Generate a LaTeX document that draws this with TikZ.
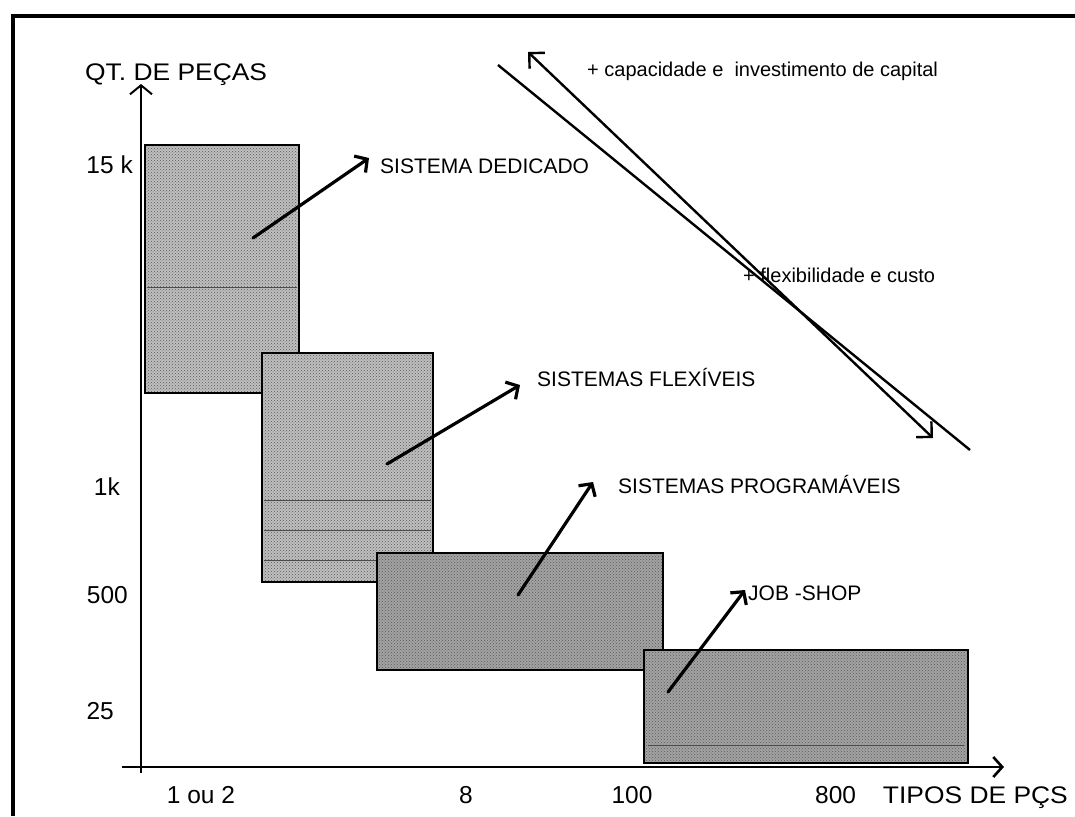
\documentclass[tikz,border=0pt]{standalone}
\usepackage{fontspec}
\setmainfont{Liberation Sans}
\newfontfamily\axisfont[FakeStretch=1.1]{Liberation Sans}
\usetikzlibrary{arrows.meta,patterns}
\begin{document}
\begin{tikzpicture}[x=1pt,y=-1pt,
  frameline/.style={line width=3.5pt},
  axisline/.style={line width=2pt},
  boxfill/.style={fill=black!#1},
  boxdots/.style={pattern=crosshatch dots, pattern color=black!65},
  boxline/.style={draw=black, line width=2.8pt},
  scanline/.style={draw=black!70, line width=0.8pt},
  tagarrow/.style={line width=3.2pt, line cap=round, -{Straight Barb[length=9pt,width=20pt]}},
  diagline/.style={line width=2.4pt},
  axlbl/.style={inner sep=0pt, font=\axisfont\fontsize{24}{28}\selectfont},
  numlbl/.style={inner sep=0pt, font=\fontsize{24.5}{28}\selectfont},
  syslbl/.style={inner sep=0pt, anchor=base west, font=\fontsize{21}{25}\selectfont},
  notelbl/.style={inner sep=0pt, anchor=base west, font=\fontsize{20}{24}\selectfont}
]
\useasboundingbox (0,0) rectangle (1075,816);
\fill[white] (0,0) rectangle (1075,816);

% frame
\coordinate (fbl) at (13,816);
\coordinate (ftl) at (13,16);
\coordinate (ftr) at (1075,16);
\draw[frameline] (fbl) -- (ftl) -- (ftr);

% axes
\coordinate (yo) at (141,773);
\coordinate (ytip) at (141,84);
\coordinate (xo) at (122,767);
\coordinate (xtip) at (1004,767);
\draw[axisline, -{Straight Barb[length=9pt,width=22pt]}] (yo) -- (ytip);
\draw[line width=2.6pt, -{Straight Barb[length=9pt,width=20pt]}] (xo) -- (xtip);

% boxes
\coordinate (b1a) at (145,145); \coordinate (b1b) at (299,393);
\coordinate (b2a) at (262,353); \coordinate (b2b) at (433,582);
\coordinate (b3a) at (377,553); \coordinate (b3b) at (663,670);
\coordinate (b4a) at (644,650); \coordinate (b4b) at (968,763);

\fill[boxfill=25] (b1a) rectangle (b1b);
\fill[boxdots] (b1a) rectangle (b1b);
\draw[scanline] (147,287) -- (297,287);
\draw[boxline] (b1a) rectangle (b1b);

\fill[boxfill=25] (b2a) rectangle (b2b);
\fill[boxdots] (b2a) rectangle (b2b);
\draw[scanline] (264,500) -- (431,500);
\draw[scanline] (264,530) -- (431,530);
\draw[scanline] (264,560) -- (431,560);
\draw[boxline] (b2a) rectangle (b2b);

\fill[boxfill=36] (b3a) rectangle (b3b);
\fill[boxdots] (b3a) rectangle (b3b);
\draw[boxline] (b3a) rectangle (b3b);

\fill[boxfill=36] (b4a) rectangle (b4b);
\fill[boxdots] (b4a) rectangle (b4b);
\draw[scanline] (648,745) -- (964,745);
\draw[boxline] (b4a) rectangle (b4b);

% system labels and arrows
\node[syslbl] (dedic) at (380,173) {SISTEMA DEDICADO};
\node[syslbl] (flex) at (537,386) {SISTEMAS FLEXÍVEIS};
\node[syslbl] (prog) at (618,493) {SISTEMAS PROGRAMÁVEIS};
\node[syslbl] (job) at (748,600) {JOB -SHOP};

\coordinate (a1s) at (253,238); \coordinate (a1e) at (369,158);
\coordinate (a2s) at (387,464); \coordinate (a2e) at (520,385);
\coordinate (a3s) at (518,595); \coordinate (a3e) at (593,482);
\coordinate (a4s) at (668,692); \coordinate (a4e) at (745,590);
\draw[tagarrow] (a1s) -- (a1e);
\draw[tagarrow] (a2s) -- (a2e);
\draw[tagarrow] (a3s) -- (a3e);
\draw[tagarrow] (a4s) -- (a4e);

% diagonal trend lines
\coordinate (d1s) at (498,65); \coordinate (d1e) at (970,450);
\coordinate (d2s) at (528,52); \coordinate (d2e) at (933,438);
\draw[diagline] (d1s) -- (d1e);
\draw[diagline, {Straight Barb[length=11pt,width=22pt]}-{Straight Barb[length=11pt,width=22pt]}] (d2s) -- (d2e);

\node[notelbl] (cap) at (587,77) {+ capacidade e \ investimento de capital};
\node[notelbl] (flx) at (743,282) {+ flexibilidade e custo};

% axis labels
\node[axlbl, anchor=base west] (ylab) at (85,81) {QT. DE PEÇAS};
\node[axlbl, anchor=base east] (xlab) at (1068,803) {TIPOS DE PÇS};

\node[numlbl, anchor=base east] (n15k) at (133,173) {15 k};
\node[numlbl, anchor=base east] (n1k) at (120,495) {1k};
\node[numlbl, anchor=base east] (n500) at (128,603) {500};
\node[numlbl, anchor=base east] (n25) at (114,719) {25};

\node[numlbl, anchor=base] (t12) at (201,803) {1 ou 2};
\node[numlbl, anchor=base] (t8) at (466,803) {8};
\node[numlbl, anchor=base] (t100) at (632,803) {100};
\node[numlbl, anchor=base west] (t800) at (815,803) {800};
\end{tikzpicture}
\end{document}
